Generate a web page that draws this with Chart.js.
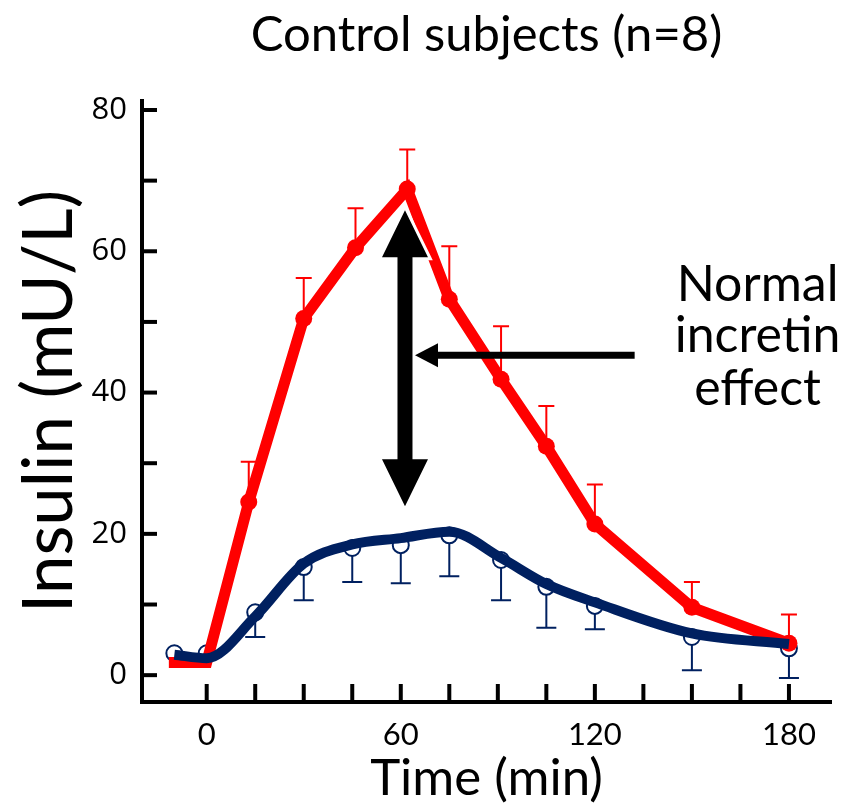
<!DOCTYPE html>
<html>
<head>
<meta charset="utf-8">
<script src="https://cdn.jsdelivr.net/npm/chart.js@4"></script>
<style>
    html, body { margin: 0; padding: 0; background: #fff; }
</style>
</head>
<body>
<canvas id="chart" width="841" height="809"></canvas>
<script>

// oral glucose (red, filled dots, SEM upward)
const redTimes = [-10, 0, 13, 30, 46, 62, 75, 91, 105, 120, 150, 180];
const redMean = [1.8, 1.8, 24.5, 50.5, 60.5, 68.8, 53.2, 41.9, 32.4, 21.4, 9.6, 4.5];
const redErr = [0, 0, 5.7, 5.7, 5.6, 5.6, 7.5, 7.5, 5.7, 5.6, 3.6, 4.1];

// iv glucose (navy, open circles, SEM downward)
const blueTimes = [-10, 0, 15, 30, 45, 60, 75, 91, 105, 120, 150, 180];
const blueMean = [3.1, 3.1, 8.9, 15.3, 18.0, 18.4, 19.8, 16.3, 12.5, 9.8, 5.4, 3.8];
const blueErr = [0, 0, 3.5, 4.7, 4.8, 5.4, 5.8, 5.7, 5.8, 3.3, 4.7, 4.2];

// smoothed curve drawn through the open circles
const blueFit = [2.9, 2.4, 8.3, 15.8, 18.5, 19.4, 20.3, 16.6, 12.9, 10.3, 5.9, 4.4];

const xTicks = [0, 15, 30, 45, 60, 75, 90, 105, 120, 135, 150, 165, 180];
const xLabels = ["0", "60", "120", "180"];
const yTicks = [0, 10, 20, 30, 40, 50, 60, 70, 80];
const yLabels = ["0", "20", "40", "60", "80"];

const titleText = "Control subjects (n=8)";
const noteLines = ["Normal", "incretin", "effect"];

const RED = "#ff0000";
const NAVY = "#002060";

const extras = {
    id: "extras",
    beforeDatasetsDraw(chart) {
        const ctx = chart.ctx;
        const xs = chart.scales.x;
        const ys = chart.scales.y;
        ctx.save();
        ctx.lineWidth = 2;

        // red error bars go up
        ctx.strokeStyle = RED;
        redTimes.forEach((t, i) => {
            if (!redErr[i]) return;
            const px = xs.getPixelForValue(t);
            const y0 = ys.getPixelForValue(redMean[i]);
            const y1 = ys.getPixelForValue(redMean[i] + redErr[i]);
            ctx.beginPath();
            ctx.moveTo(px, y0);
            ctx.lineTo(px, y1);
            ctx.moveTo(px - 8, y1);
            ctx.lineTo(px + 8, y1);
            ctx.stroke();
        });

        // navy error bars go down
        ctx.strokeStyle = NAVY;
        blueTimes.forEach((t, i) => {
            if (!blueErr[i]) return;
            const px = xs.getPixelForValue(t);
            const y0 = ys.getPixelForValue(blueMean[i]);
            const y1 = ys.getPixelForValue(blueMean[i] - blueErr[i]);
            ctx.beginPath();
            ctx.moveTo(px, y0);
            ctx.lineTo(px, y1);
            ctx.moveTo(px - 10, y1);
            ctx.lineTo(px + 10, y1);
            ctx.stroke();
        });
        ctx.restore();
    },
    afterDraw(chart) {
        const ctx = chart.ctx;
        const xs = chart.scales.x;
        const ys = chart.scales.y;
        const area = chart.chartArea;
        ctx.save();

        // tick marks pointing into the plot
        ctx.strokeStyle = "#000";
        ctx.lineWidth = 4;
        xTicks.forEach((v) => {
            const px = xs.getPixelForValue(v);
            ctx.beginPath();
            ctx.moveTo(px, area.bottom);
            ctx.lineTo(px, area.bottom - 18);
            ctx.stroke();
        });
        yTicks.forEach((v) => {
            const py = ys.getPixelForValue(v);
            ctx.beginPath();
            ctx.moveTo(area.left, py);
            ctx.lineTo(area.left + 15, py);
            ctx.stroke();
        });

        // big double arrow between the two curves
        const ax = xs.getPixelForValue(61.3);
        const aTop = ys.getPixelForValue(65.8);
        const aBot = ys.getPixelForValue(23.9);
        const hl = 47, hw = 23, sw = 7.5;
        ctx.beginPath();
        ctx.moveTo(ax, aTop);
        ctx.lineTo(ax + hw, aTop + hl);
        ctx.lineTo(ax + sw, aTop + hl);
        ctx.lineTo(ax + sw, aBot - hl);
        ctx.lineTo(ax + hw, aBot - hl);
        ctx.lineTo(ax, aBot);
        ctx.lineTo(ax - hw, aBot - hl);
        ctx.lineTo(ax - sw, aBot - hl);
        ctx.lineTo(ax - sw, aTop + hl);
        ctx.lineTo(ax - hw, aTop + hl);
        ctx.closePath();
        ctx.lineWidth = 6;
        ctx.strokeStyle = "#fff";
        ctx.lineJoin = "miter";
        ctx.stroke();
        ctx.fillStyle = "#000";
        ctx.fill();

        // pointer arrow from the note
        const hy = ys.getPixelForValue(45.3);
        const hRight = xs.getPixelForValue(132.3);
        const hTip = xs.getPixelForValue(64.4);
        ctx.beginPath();
        ctx.moveTo(hRight, hy);
        ctx.lineTo(hTip + 20, hy);
        ctx.lineWidth = 7;
        ctx.strokeStyle = "#000";
        ctx.stroke();
        ctx.beginPath();
        ctx.moveTo(hTip, hy);
        ctx.lineTo(hTip + 23, hy - 12);
        ctx.lineTo(hTip + 23, hy + 12);
        ctx.closePath();
        ctx.fill();

        // note text
        ctx.font = "50px Lato";
        ctx.textAlign = "center";
        ctx.textBaseline = "alphabetic";
        const nx = xs.getPixelForValue(170.3);
        const baselines = [52.9, 45.7, 38.3];
        noteLines.forEach((line, i) => {
            ctx.fillText(line, nx, ys.getPixelForValue(baselines[i]));
        });

        ctx.restore();
    }
};

const chart = new Chart(document.getElementById("chart"), {
    type: "line",
    data: {
        datasets: [
            {
                label: "Oral glucose",
                data: redTimes.map((t, i) => ({ x: t, y: redMean[i] })),
                borderColor: RED,
                backgroundColor: RED,
                borderWidth: 11,
                borderCapStyle: "square",
                tension: 0,
                pointRadius: redTimes.map((t) => (t <= 0 ? 0 : 8.5)),
                pointBorderWidth: 0,
                pointBackgroundColor: RED,
                order: 2
            },
            {
                label: "IV glucose (fit)",
                data: blueTimes.map((t, i) => ({ x: t, y: blueFit[i] })),
                borderColor: NAVY,
                borderWidth: 10,
                cubicInterpolationMode: "monotone",
                pointRadius: 0,
                order: 1
            },
            {
                label: "IV glucose",
                data: blueTimes.map((t, i) => ({ x: t, y: blueMean[i] })),
                showLine: false,
                pointRadius: 8,
                pointBorderWidth: 2,
                pointBorderColor: NAVY,
                pointBackgroundColor: "#fff",
                order: 3
            }
        ]
    },
    options: {
        responsive: false,
        animation: false,
        layout: {
            padding: { top: 0, left: 0, right: 9, bottom: 0 }
        },
        plugins: {
            legend: { display: false },
            tooltip: { enabled: false },
            title: {
                display: true,
                fullSize: false,
                text: titleText,
                color: "#000",
                font: { family: "Lato", size: 49, weight: "normal" },
                padding: { top: 6, bottom: 36 }
            }
        },
        scales: {
            x: {
                type: "linear",
                min: -20,
                max: 193,
                grid: { display: false, drawTicks: false },
                border: { display: true, color: "#000", width: 4 },
                afterBuildTicks: (scale) => {
                    scale.ticks = xTicks.map((v) => ({ value: v }));
                },
                afterFit: (scale) => {
                    scale.height = 107;
                },
                ticks: {
                    autoSkip: false,
                    maxRotation: 0,
                    padding: 14,
                    color: "#000",
                    font: { family: "Lato", size: 31 },
                    callback: (v) => (xLabels.includes(String(v)) ? String(v) : "")
                },
                title: {
                    display: true,
                    text: "Time (min)",
                    color: "#000",
                    font: { family: "Lato", size: 51 },
                    padding: { top: 0, bottom: 0 }
                }
            },
            y: {
                type: "linear",
                min: -3.8,
                max: 81.3,
                grid: { display: false, drawTicks: false },
                border: { display: true, color: "#000", width: 4 },
                afterBuildTicks: (scale) => {
                    scale.ticks = yTicks.map((v) => ({ value: v }));
                },
                afterFit: (scale) => {
                    scale.width = 142;
                },
                ticks: {
                    autoSkip: false,
                    padding: 15,
                    color: "#000",
                    font: { family: "Open Sans", size: 31 },
                    callback: (v) => (yLabels.includes(String(v)) ? String(v) : "")
                },
                title: {
                    display: true,
                    text: "Insulin (mU/L)",
                    color: "#000",
                    font: { family: "Lato", size: 69 },
                    padding: { top: 8, bottom: 0 }
                }
            }
        }
    },
    plugins: [extras]
});

</script>
</body>
</html>
